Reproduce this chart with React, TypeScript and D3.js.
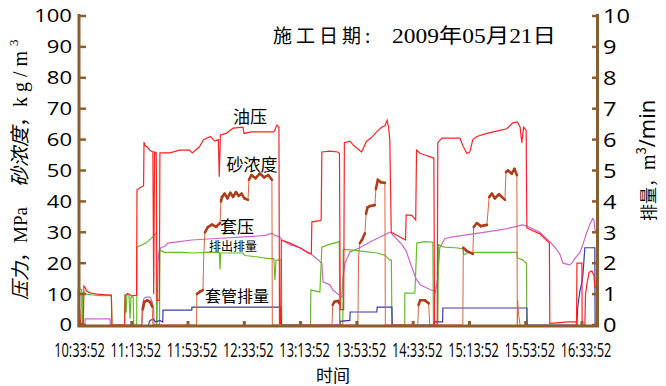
import React from 'react'
import * as d3 from 'd3'

// minutes after 10:33:52, value
const tubingPressure: [number, number][] = [
  [2.5, 0], [3.0, 5], [3.6, 0.5], [5.6, 0.5], [6.0, 12.6], [6.8, 12.2], [8, 11], [10.3, 10.4], [15, 10], [20, 9.8], [25.5, 9.7], [25.9, 0],
  [35.0, 0], [35.3, 9.5], [37, 10.2], [38.7, 9.8], [40, 9.4], [43.4, 9.6], [43.7, 43.7], [46, 44.5], [48.4, 45], [48.7, 59.2], [49.5, 58],
  [51, 57.6], [53, 56.5], [55, 56], [55.6, 10], [56.2, 56], [57.4, 55.7], [57.9, 8], [59.6, 8], [60.0, 55.7], [67, 55.7], [74, 56.6],
  [81, 56.6], [83, 55.7], [88, 57.6], [91, 60], [96, 61], [99, 59.5], [101.5, 60], [102.2, 48], [103, 61.5], [107, 62], [112, 63.7],
  [119, 64], [119.8, 62], [125, 62.5], [135, 62.5], [141, 62.5], [143.2, 64.7], [144.6, 64], [145.0, 0.5], [145.8, 0.5], [146.3, 27.5],
  [152.4, 26.5], [159.5, 25], [165.2, 23.3], [167.6, 23], [168.0, 33.4], [173.7, 33.8], [174.6, 34], [175.1, 56], [180.8, 56.3],
  [186.5, 56], [187.6, 55.5], [188.2, 5], [190.6, 5], [191.1, 59], [195, 59.5], [198, 58], [203.3, 56], [206.9, 59.5], [210, 60.5],
  [214, 62.5], [217.5, 64], [220, 64.5], [221.5, 66.3], [222.5, 64], [223.4, 60], [224.4, 30], [230.6, 28.5], [234.6, 27.5],
  [235.0, 35.6], [239, 35.5], [241.8, 34], [242.4, 56.6], [244.8, 55.6], [248.3, 55], [251.8, 54.5], [254.7, 54], [255.2, 0],
  [257.1, 0], [257.5, 59], [260.4, 60.5], [273.2, 60.5], [275.3, 58], [278.2, 55.5], [280.3, 56], [282.4, 60], [285.3, 61],
  [292.4, 62], [301.6, 63], [306.6, 63.5], [310.8, 65.4], [314, 65.7], [316, 64], [317.2, 59], [318.5, 64], [320.3, 63],
  [320.8, 31.4], [325, 30.5], [330, 29.5], [336.8, 26.5], [337.1, 0.5], [344, 0.8], [350, 1], [355.8, 1], [356.1, 0], [356.4, 20],
  [359.9, 20], [360.1, 0], [362, 0], [362.5, 10], [363.4, 13], [365, 17], [367, 17.5], [368.5, 16], [369.1, 12.3], [370.5, 12],
]

const casingPressure: [number, number][] = [
  [1.8, 0], [1.9, 11.5], [4.4, 11.5], [4.6, 0], [5.0, 0], [5.3, 10.5], [8, 10], [12, 9.7], [18, 9.5], [25.5, 9.6], [25.9, 0],
  [34.8, 0], [35.2, 10], [36, 4], [36.6, 10], [38, 9.5], [38.8, 2], [39.4, 9], [41, 9], [41.4, 0], [43.5, 0], [43.7, 25.2],
  [50, 26.5], [55, 28.5], [57.4, 29.8], [57.6, 0], [59.7, 0], [60.0, 24.3], [63, 23.5], [75, 23.5], [85, 23.3], [95, 23.6],
  [102.2, 23.5], [102.7, 18], [103.2, 23.3], [119, 23.3], [120.4, 22.5], [130, 22], [137, 21.5], [141, 21.5], [141.7, 14.5],
  [142.5, 21], [146.3, 21], [146.6, 0], [167, 0], [167.3, 11.3], [173.7, 10.7], [175.1, 25.2], [180, 26], [187.5, 27], [187.9, 0],
  [190.0, 0], [190.3, 24.5], [195, 24.3], [205, 23.8], [214, 23.3], [219.9, 22.6], [223.4, 21], [224.5, 21], [224.9, 0],
  [234.0, 0], [234.1, 10.3], [241.2, 10.3], [242.6, 26.5], [248, 27], [254.0, 26.8], [254.4, 0], [257.5, 0], [258.0, 26],
  [262, 25.2], [270, 25], [275.3, 24.7], [276, 22.7], [278.2, 23.3], [285, 23.5], [300, 23.5], [313.7, 23.5], [314.0, 21.7],
  [318, 21], [320.5, 20], [320.8, 0],
]

const sandConc: [number, number][] = [
  [47.3, 0], [47.8, 5], [49, 7.5], [51, 8], [53, 7.5], [54.5, 6], [55, 0], [86.0, 0], [86.3, 10], [88.5, 10.8], [90.6, 11.3],
  [91.2, 23], [92, 30], [94.1, 31.7], [97, 32.5], [100, 31.8], [102.7, 33], [103.4, 40], [104.1, 41.4], [106, 42.5], [108, 41],
  [110, 42.8], [112, 41.5], [114, 43], [116, 41.8], [118, 42.5], [120, 41], [122.6, 40.5], [123.3, 47], [125, 48.5], [128, 47.5],
  [131, 49], [134, 47.8], [137, 48.5], [139.6, 47], [139.9, 0],
  [182.3, 0], [182.8, 6.5], [184, 7.5], [186.5, 7.8], [187.5, 7], [187.9, 0], [200.7, 0], [201.2, 22], [202.1, 26.5], [203.6, 27.5],
  [205.7, 29.7], [206.5, 36], [207.5, 38], [209.2, 38.5], [212.8, 38.8], [213.5, 44], [214.9, 47], [217, 46.2], [219.9, 46], [220.2, 0],
  [243.3, 0], [243.8, 6.5], [245, 8], [248.3, 8], [251, 7], [251.8, 0], [275.3, 0], [275.6, 25], [278, 24], [282.4, 23], [283, 31.7],
  [285.3, 33], [288, 32], [292.4, 32.4], [294, 41.4], [296, 42.5], [298, 41], [301, 42.3], [305.2, 40.5], [306, 49.5], [307.3, 50],
  [310, 49], [312, 50.5], [313.7, 48.5], [314, 0], [314.2, 8], [315, 3], [316, 0],
]

const dischargeRate: [number, number][] = [
  [6.7, 0], [6.9, 0.2], [24.5, 0.2], [24.8, 0], [47.0, 0], [47.5, 0.6], [48.5, 0.85], [50, 0.9], [53, 0.9], [54.5, 0.75],
  [55.5, 0.55], [55.8, 0], [57.9, 0], [58.6, 2.0], [59.4, 2.4], [60.7, 2.5], [63.6, 2.55], [65.7, 2.65], [74, 2.7], [82.8, 2.75],
  [100, 2.8], [120, 2.85], [135, 2.9], [139.6, 2.97], [141.7, 2.9], [145.3, 2.85], [146.7, 2.75], [152.4, 2.6], [159.5, 2.5],
  [166.6, 2.33], [170, 2.2], [175.1, 2.0], [175.9, 1.4], [180.8, 1.3], [183.0, 1.13], [187.9, 0.95], [189.3, 0.9], [190.0, 1.5],
  [191.5, 2.0], [195, 2.36], [202, 2.5], [210, 2.7], [223.4, 3.0], [224.9, 2.95], [228, 2.8], [232, 2.6], [235, 2.4], [238, 2.0],
  [242, 1.5], [245, 1.3], [251.8, 1.15], [254.7, 1.1], [255.4, 1.0], [257.5, 1.5], [258.9, 2.5], [262.5, 2.8], [268.2, 2.85],
  [290, 3.0], [305, 3.1], [317.9, 3.24], [320.8, 3.2], [330, 3.0], [337.1, 2.7], [341, 2.5], [344.2, 2.3], [346.4, 2.0],
  [351.3, 1.95], [352.8, 2.0], [354.9, 2.15], [358.5, 2.35], [360.6, 2.6], [363.4, 3.0], [366, 3.3], [367.7, 3.45], [368.5, 3.4],
  [369.1, 3.1], [370.5, 3.0],
]

const casingRate: [number, number][] = [
  [52, 0], [52.5, 0.12], [55, 0.2], [57, 0.1], [60, 0.15], [62.0, 0.1], [62.2, 0.48], [82.6, 0.48], [82.8, 0.58], [146.0, 0.58],
  [146.3, 0], [187.9, 0], [188.2, 0.12], [195, 0.15], [195.2, 0.42], [214.2, 0.42], [214.4, 0.58], [224.9, 0.58], [225.1, 0],
  [254.7, 0], [255, 0.1], [260.9, 0.1], [261.1, 0.55], [320.8, 0.55], [321, 0], [356.3, 0], [357, 0.6], [358.5, 1.1], [360, 1.4],
  [360.6, 1.6], [362, 2.5], [369.1, 2.5], [369.3, 0],
]

const timeLabels = ['10:33:52', '11:13:52', '11:53:52', '12:33:52', '13:13:52', '13:53:52', '14:33:52', '15:13:52', '15:53:52', '16:33:52']
const leftTicks = [0, 10, 20, 30, 40, 50, 60, 70, 80, 90, 100]
const rightTicks = [0, 1, 2, 3, 4, 5, 6, 7, 8, 9, 10]

const AXIS = '#8b5e2e'
const CJK = '"Noto Sans CJK SC", sans-serif'
const SERIF = `"Liberation Serif", ${CJK}`

export default function App() {
  const x = d3.scaleLinear().domain([2.5, 371]).range([79, 597.5])
  const yL = d3.scaleLinear().domain([0, 100]).range([325, 16])
  const yR = d3.scaleLinear().domain([0, 10]).range([325, 16])

  const lineL = d3.line<[number, number]>().x(d => x(d[0])).y(d => yL(d[1]))
  const lineR = d3.line<[number, number]>().x(d => x(d[0])).y(d => yR(d[1]))

  // sand plateaus get the heavy noisy look, steep jumps stay thin
  const sandFlat = d3.pairs(sandConc).filter(([a, b]) => Math.abs(b[1] - a[1]) < 4 && Math.min(a[1], b[1]) > 0.5)

  return (
    <svg width={666} height={386} style={{ position: 'absolute', left: 0, top: 0, background: '#fff' }}>
      {/* series */}
      <path d={lineR(dischargeRate) || ''} fill="none" stroke="#cc66cc" strokeWidth={1.2} />
      <path d={lineL(casingPressure) || ''} fill="none" stroke="#66bb2a" strokeWidth={1.2} />
      <path d={lineR(casingRate) || ''} fill="none" stroke="#3a3ab0" strokeWidth={1.2} />
      <path d={lineL(tubingPressure) || ''} fill="none" stroke="#ff2222" strokeWidth={1.2} />
      <path d={lineL(sandConc) || ''} fill="none" stroke="#e0653f" strokeWidth={1} />
      {sandFlat.map(([a, b], i) => (
        <line key={'s' + i} x1={x(a[0])} y1={yL(a[1])} x2={x(b[0])} y2={yL(b[1])}
          stroke="#b03c18" strokeWidth={2.6} strokeLinecap="round" />
      ))}

      {/* axes */}
      <line x1={79} x2={79} y1={14} y2={327} stroke={AXIS} strokeWidth={3} />
      <line x1={597.5} x2={597.5} y1={14} y2={327} stroke={AXIS} strokeWidth={3} />
      <line x1={77.5} x2={599} y1={326} y2={326} stroke={AXIS} strokeWidth={3} />

      {leftTicks.map(t => (
        <g key={'l' + t}>
          <line x1={79} x2={86} y1={yL(t)} y2={yL(t)} stroke={AXIS} strokeWidth={2.5} />
          <text x={72} y={yL(t)} dy="0.36em" textAnchor="end" fontFamily='"Open Sans", sans-serif' fontSize={18}
            textLength={String(t).length * 12.6} lengthAdjust="spacingAndGlyphs">{t}</text>
        </g>
      ))}
      {rightTicks.map(t => (
        <g key={'r' + t}>
          <line x1={592} x2={597.5} y1={yR(t)} y2={yR(t)} stroke={AXIS} strokeWidth={2.5} />
          <text x={603} y={yR(t)} dy="0.36em" fontFamily='"Open Sans", sans-serif' fontSize={20}
            textLength={String(t).length * 13.5} lengthAdjust="spacingAndGlyphs">{t}</text>
        </g>
      ))}
      {timeLabels.map((lab, i) => (
        <g key={lab}>
          {i > 0 && <rect x={x(i * 40) - 1.5} y={321} width={3} height={4} fill={AXIS} />}
          <text transform={`translate(${x(i * 40) + 4},357) scale(0.64,1)`} textAnchor="middle"
            fontFamily='"Open Sans", sans-serif' fontSize={20}>{lab}</text>
        </g>
      ))}

      {/* axis titles */}
      <text x={333} y={382} textAnchor="middle" fontFamily={CJK} fontSize={17}>时间</text>
      <text transform="translate(27,300) rotate(-90)" fontFamily={SERIF} fontSize={19}>
        <tspan fontStyle="italic">压力</tspan>，MPa
      </text>
      <text transform="translate(27,187) rotate(-90)" fontFamily={SERIF} fontSize={20}>
        <tspan fontStyle="italic">砂浓度</tspan>，<tspan letterSpacing={5}>kg/m</tspan><tspan dy={-9} fontSize={13}>3</tspan>
      </text>
      <text transform="translate(655,221) rotate(-90)" fontFamily={CJK} fontSize={17}>
        排量，<tspan fontFamily={SERIF} fontSize={20}>m</tspan><tspan dy={-9} fontSize={13}>3</tspan>
        <tspan dy={9} fontFamily='"Open Sans", sans-serif' fontSize={22}>/min</tspan>
      </text>

      {/* title */}
      <text x={273} y={43} fontFamily={CJK} fontSize={19} letterSpacing={4}>施工日期:</text>
      <text x={392} y={43} fontFamily={SERIF} fontSize={20} textLength={164} lengthAdjust="spacingAndGlyphs">2009年05月21日</text>

      {/* series labels */}
      <text x={250} y={123} textAnchor="middle" fontFamily={CJK} fontSize={17}>油压</text>
      <text x={252} y={171} textAnchor="middle" fontFamily={CJK} fontSize={17}>砂浓度</text>
      <text x={237} y={233} textAnchor="middle" fontFamily={CJK} fontSize={17}>套压</text>
      <text x={233} y={251} textAnchor="middle" fontFamily={CJK} fontSize={12}>排出排量</text>
      <text x={237} y={302} textAnchor="middle" fontFamily={CJK} fontSize={16}>套管排量</text>
    </svg>
  )
}
